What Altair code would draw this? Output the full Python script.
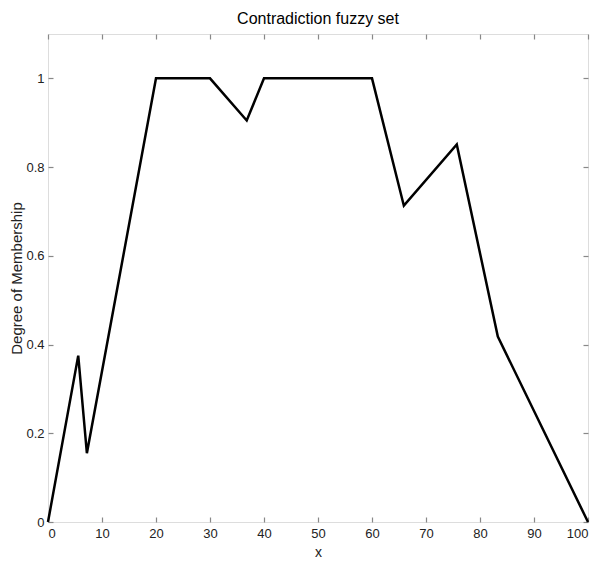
import altair as alt
import pandas as pd

x_vals = [0, 5.6, 7.2, 20, 30, 36.8, 40, 60, 65.9, 75.7, 83.3, 100]
y_vals = [0, 0.375, 0.155, 1, 1, 0.905, 1, 1, 0.713, 0.851, 0.418, 0]
x_ticks = [0, 10, 20, 30, 40, 50, 60, 70, 80, 90, 100]
y_ticks = [0, 0.2, 0.4, 0.6, 0.8, 1]

df = pd.DataFrame({"x": x_vals, "y": y_vals})

FONT = "Liberation Sans"
GRAY = "#888888"

xs = alt.Scale(domain=[0, 100], nice=False, zero=False)
ys = alt.Scale(domain=[0, 1.1], nice=False, zero=False)

common = dict(domain=False, grid=False, tickSize=5, offset=-5, tickColor=GRAY,
              tickWidth=1.2)

line = alt.Chart(df).mark_line(color="black", strokeWidth=2.5).encode(
    x=alt.X("x:Q", scale=xs, title="x",
            axis=alt.Axis(values=x_ticks, orient="bottom", labelPadding=5,
                          labelFontSize=13, labelColor="#222", labelFont=FONT,
                          titleFont=FONT, titleFontSize=14, titleFontWeight="normal",
                          titleColor="#222", titlePadding=5, **common)),
    y=alt.Y("y:Q", scale=ys, title="Degree of Membership",
            axis=alt.Axis(values=y_ticks, orient="left", labelPadding=4, format="~g",
                          labelFontSize=13, labelColor="#222", labelFont=FONT,
                          titleFont=FONT, titleFontSize=15, titleFontWeight="normal",
                          titleColor="#222", titlePadding=1, **common)),
)

frame = alt.Chart(df).mark_line(opacity=0).encode(
    x=alt.X("x:Q", scale=xs, title=None,
            axis=alt.Axis(values=x_ticks, orient="top", labels=False, **common)),
    y=alt.Y("y:Q", scale=ys, title=None,
            axis=alt.Axis(values=y_ticks, orient="right", labels=False, **common)),
)

chart = alt.layer(line, frame).resolve_axis(x="independent", y="independent").properties(
    width=540, height=488,
    autosize=alt.AutoSizeParams(type="none"),
    padding={"left": 40, "top": 26, "right": 2, "bottom": 48},
    title=alt.TitleParams("Contradiction fuzzy set", font=FONT, fontSize=16,
                          fontWeight="normal", color="black", offset=6),
).configure_view(stroke=GRAY, strokeWidth=1.3).configure(background="white")

chart.save("out.html", embed_options={"renderer": "svg", "actions": False})
